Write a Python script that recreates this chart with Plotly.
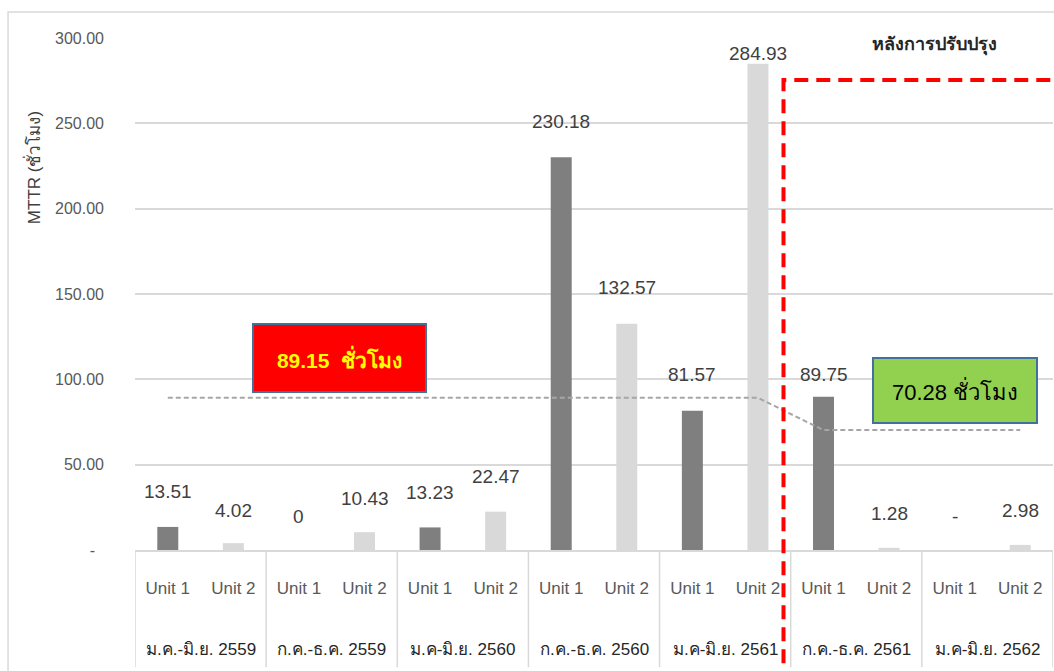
import plotly.graph_objects as go

# ---- data -------------------------------------------------------------
periods = ["ม.ค.-มิ.ย. 2559", "ก.ค.-ธ.ค. 2559", "ม.ค-มิ.ย. 2560", "ก.ค.-ธ.ค. 2560",
           "ม.ค-มิ.ย. 2561", "ก.ค.-ธ.ค. 2561", "ม.ค-มิ.ย. 2562"]
units = ["Unit 1", "Unit 2"]
unit1_mttr = [13.51, 0, 13.23, 230.18, 81.57, 89.75, None]
unit2_mttr = [4.02, 10.43, 22.47, 132.57, 284.93, 1.28, 2.98]
avg_before = 89.15
avg_after = 70.28
n_before_periods = 5          # periods before the improvement
y_ticks = [0, 50, 100, 150, 200, 250, 300]

# ---- styling ----------------------------------------------------------
FONT = "Liberation Sans, Noto Sans, sans-serif"
UNIT_COLORS = {"Unit 1": "#7f7f7f", "Unit 2": "#d9d9d9"}
GRID = "#d9d9d9"
Y_MAX = 300
# vertical offset (px) of each value label above its bar, in bar order
label_shift = [35, 33, 34, 34, 35, 35, 36, 36, 36, 10, 22, 34, 34, 34]

# bars in plotting order: period by period, Unit 1 then Unit 2
bar_vals = []
for u1, u2 in zip(unit1_mttr, unit2_mttr):
    bar_vals += [u1, u2]
n_bars = len(bar_vals)
xpos = list(range(n_bars))

fig = go.Figure()
for k, unit in enumerate(units):
    src = unit1_mttr if k == 0 else unit2_mttr
    fig.add_trace(go.Bar(
        x=[2 * i + k for i in range(len(periods))],
        y=[v if v is not None else 0 for v in src],
        width=0.32,
        marker=dict(color=UNIT_COLORS[unit], line=dict(width=0)),
        name=unit, showlegend=False, hoverinfo="skip",
    ))

# average MTTR before / after the improvement
avg_line = [avg_before] * (2 * n_before_periods) + \
           [avg_after] * (2 * (len(periods) - n_before_periods))
fig.add_trace(go.Scatter(
    x=xpos, y=avg_line, mode="lines",
    line=dict(color="#a6a6a6", width=2, dash="5px,3px"),
    showlegend=False, hoverinfo="skip",
))

annotations = []
# value labels
for i, v in enumerate(bar_vals):
    txt = "-" if v is None else ("0" if v == 0 else f"{v:.2f}")
    annotations.append(dict(
        x=i, y=v if v is not None else 0, xref="x", yref="y",
        text=txt, showarrow=False, yanchor="middle", yshift=label_shift[i],
        font=dict(family=FONT, size=19, color="#404040"),
    ))

# period (outer) category labels
for g, p in enumerate(periods):
    annotations.append(dict(
        x=2 * g + 0.5, y=-0.195, xref="x", yref="paper",
        text=p, showarrow=False, yanchor="middle",
        font=dict(family=FONT, size=17, color="#262626"),
    ))

# y-axis title
annotations.append(dict(
    x=-0.111, y=0.746, xref="paper", yref="paper", text="MTTR (ชั่วโมง)",
    textangle=-90, showarrow=False, xanchor="center", yanchor="middle",
    font=dict(family=FONT, size=17, color="#404040"),
))

# average call-out boxes
annotations.append(dict(
    x=2.62, y=112.7, xref="x", yref="y",
    text=f"<b>{avg_before:.2f}\u00a0\u00a0ชั่วโมง</b>", showarrow=False,
    width=171, height=66, bgcolor="#ff0000", bordercolor="#41719c",
    borderwidth=2, borderpad=0,
    font=dict(family=FONT, size=21, color="#ffff00"),
))
annotations.append(dict(
    x=12.0, y=93.7, xref="x", yref="y",
    text=f"{avg_after:.2f} ชั่วโมง", showarrow=False,
    width=162, height=63, bgcolor="#92d050", bordercolor="#41719c",
    borderwidth=2, borderpad=0,
    font=dict(family=FONT, size=22, color="#000000"),
))

# heading of the post-improvement region
annotations.append(dict(
    x=11.7, y=296, xref="x", yref="y", text="<b>หลังการปรับปรุง</b>",
    showarrow=False, font=dict(family=FONT, size=18, color="#262626"),
))

shapes = []
# dividers between periods in the category band
for g in range(len(periods) + 1):
    shapes.append(dict(
        type="line", xref="x", yref="paper",
        x0=2 * g - 0.5, x1=2 * g - 0.5, y0=0, y1=-0.229,
        line=dict(color=GRID, width=1.5),
    ))

# dashed frame marking the post-improvement periods
frame_x = 2 * n_before_periods - 0.61
frame_top = 275.4 / Y_MAX
shapes.append(dict(
    type="path", xref="x", yref="paper",
    path=f"M {frame_x},-0.35 L {frame_x},{frame_top} L {n_bars + 0.5},{frame_top}",
    line=dict(color="#ff0000", width=4, dash="14px,8px"),
))

# chart border
shapes.append(dict(
    type="rect", xref="paper", yref="paper",
    x0=-0.1383, x1=1.2, y0=-0.5, y1=1.0508,
    line=dict(color=GRID, width=1.5), layer="below",
))

fig.update_layout(
    width=1054, height=671,
    margin=dict(l=135, r=1, t=38, b=121),
    paper_bgcolor="white", plot_bgcolor="white",
    barmode="overlay",
    annotations=annotations, shapes=shapes,
    xaxis=dict(
        range=[-0.5, n_bars - 0.5], tickmode="array",
        tickvals=xpos, ticktext=units * len(periods),
        showgrid=False, zeroline=False, showline=True,
        linecolor=GRID, linewidth=1.5, ticks="",
        ticklabelstandoff=22,
        tickfont=dict(family=FONT, size=17, color="#595959"),
    ),
    yaxis=dict(
        range=[0, Y_MAX], tickmode="array", tickvals=y_ticks,
        ticktext=["-\u00a0\u00a0"] + [f"{t:.2f}" for t in y_ticks[1:]],
        showgrid=True, gridcolor=GRID, gridwidth=1.5,
        zeroline=False, showline=False, ticks="",
        ticklabelstandoff=30,
        tickfont=dict(family=FONT, size=16, color="#595959"),
    ),
)

fig.write_html("out.html")
